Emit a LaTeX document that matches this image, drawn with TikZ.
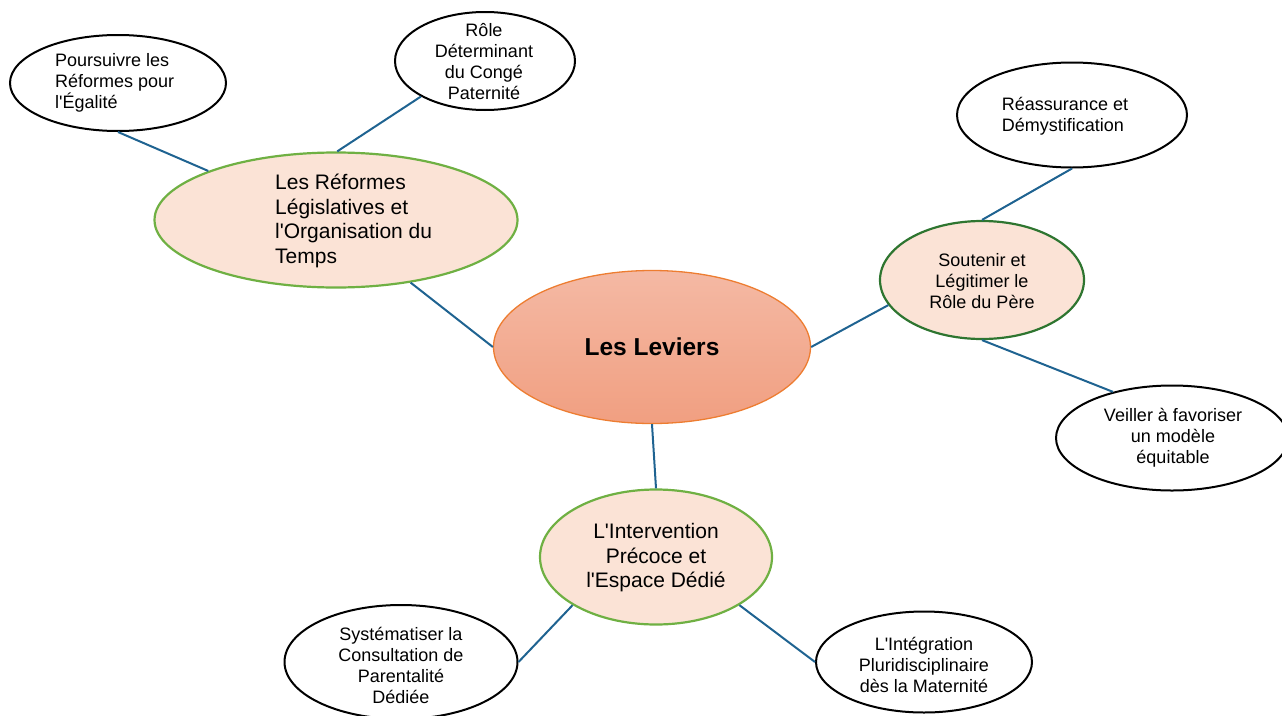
\documentclass[tikz,border=0pt]{standalone}
\usepackage{fontspec}
\setmainfont{Liberation Sans}
\usepackage{xcolor}
\usetikzlibrary{shapes.geometric}

\definecolor{linkblue}{HTML}{1F6391}
\definecolor{peach}{HTML}{FBE3D6}
\definecolor{lightgreen}{HTML}{6FB043}
\definecolor{darkgreen}{HTML}{2E7530}
\definecolor{coral}{HTML}{ED7D31}
\definecolor{salmontop}{HTML}{F4B9A4}
\definecolor{salmonbot}{HTML}{F19F81}

\tikzset{
    hub/.style={ellipse, draw=coral, line width=1.3pt, top color=salmontop, bottom color=salmonbot},
    branch/.style={ellipse, draw=lightgreen, line width=2.2pt, fill=peach},
    leaf/.style={ellipse, draw=black, line width=2pt, fill=white},
    link/.style={draw=linkblue, line width=2pt},
    smalltxt/.style={font=\fontsize{18}{21}\selectfont, inner sep=0pt},
    bigtxt/.style={font=\fontsize{21}{24.5}\selectfont, inner sep=0pt}
}
\newcommand{\ap}{\textquotesingle}

\begin{document}
\begin{tikzpicture}[x=1pt, y=-1pt]
    \useasboundingbox (0,0) rectangle (1282,715);
    \clip (0,0) rectangle (1282,715);

    % Central node
    \node[hub, minimum width=317pt, minimum height=153pt] (leviers) at (652,347) {};
    \node[font=\fontsize{24.5}{28}\selectfont\bfseries] (leviers-txt) at (leviers) {Les Leviers};

    % Branch: reformes
    \node[branch, minimum width=363pt, minimum height=135pt] (reformes) at (336,220) {};
    \node[bigtxt, align=left, anchor=west] (reformes-txt) at (275,221) {Les Réformes\\Législatives et\\l\ap Organisation du\\Temps};
    \node[leaf, minimum width=216pt, minimum height=96pt] (poursuivre) at (118,83) {};
    \node[smalltxt, align=left, anchor=west] (poursuivre-txt) at (55,83) {Poursuivre les\\Réformes pour\\l\ap Égalité};
    \node[leaf, minimum width=180pt, minimum height=98pt] (role) at (485,61) {};
    \node[smalltxt, align=center] (role-txt) at (484,62) {Rôle\\Déterminant\\du Congé\\Paternité};

    % Branch: pere
    \node[branch, draw=darkgreen, minimum width=204pt, minimum height=118pt] (soutenir) at (982,280) {};
    \node[smalltxt, align=center] (soutenir-txt) at (982,281) {Soutenir et\\Légitimer le\\Rôle du Père};
    \node[leaf, minimum width=230pt, minimum height=105pt] (reassurance) at (1072,115) {};
    \node[smalltxt, align=left] (reassurance-txt) at (1065,116) {Réassurance et\\Démystification};
    \node[leaf, minimum width=232pt, minimum height=105pt] (veiller) at (1172,438) {};
    \node[smalltxt, align=center] (veiller-txt) at (1173,438) {Veiller à favoriser\\un modèle\\équitable};

    % Branch: intervention
    \node[branch, minimum width=232pt, minimum height=135pt] (intervention) at (656,557) {};
    \node[bigtxt, align=center] (intervention-txt) at (656,558) {L\ap Intervention\\Précoce et\\l\ap Espace Dédié};
    \node[leaf, minimum width=233pt, minimum height=114pt] (systematiser) at (401,662) {};
    \node[smalltxt, align=center] (systematiser-txt) at (401,665) {Systématiser la\\Consultation de\\Parentalité\\Dédiée};
    \node[leaf, minimum width=216pt, minimum height=101pt] (integration) at (924,662) {};
    \node[smalltxt, align=center] (integration-txt) at (924,665) {L\ap Intégration\\Pluridisciplinaire\\dès la Maternité};

    % Links
    \draw[link] (reformes.159) -- (poursuivre.-90);
    \draw[link] (reformes.89) -- (role.209);
    \draw[link] (reformes.-40) -- (leviers.180);
    \draw[link] (leviers.0) -- (soutenir.195);
    \draw[link] (soutenir.90) -- (reassurance.-90);
    \draw[link] (soutenir.-90) -- (veiller.142);
    \draw[link] (leviers.-90) -- (intervention.90);
    \draw[link] (intervention.210) -- (systematiser.0);
    \draw[link] (intervention.-30) -- (integration.180);

\end{tikzpicture}
\end{document}
